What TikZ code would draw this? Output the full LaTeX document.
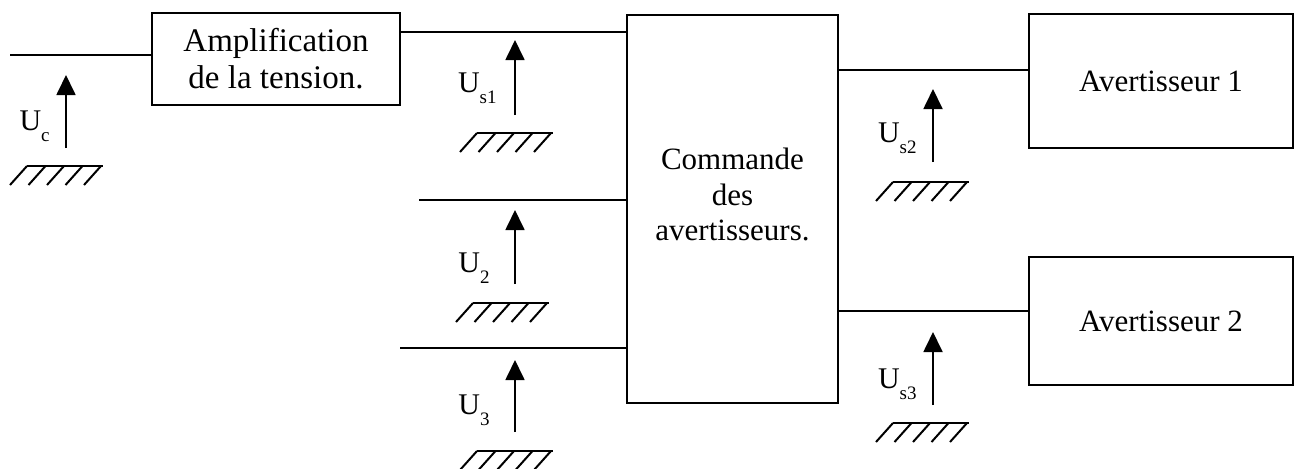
\documentclass[tikz,border=0pt]{standalone}
\usepackage{fontspec}
\setmainfont{Liberation Serif}
\usetikzlibrary{arrows.meta}
\newcommand\Ulab[1]{U\raisebox{-5.5pt}{\fontsize{9.5}{10}\selectfont #1}}
\tikzset{
  box/.style={draw, line width=0.9pt, rectangle, align=center, inner sep=0pt, font=\fontsize{15.5}{16.5}\selectfont},
  wire/.style={line width=0.9pt},
  volt/.style={line width=0.9pt, -{Triangle[length=10pt,width=9.5pt]}},
  vlab/.style={anchor=base east, inner sep=0pt, font=\fontsize{15}{16}\selectfont},
  ground/.pic={
    \draw[line width=1pt] (0,0) -- (76,0);
    \foreach \i in {0,...,4} \draw[line width=1pt] (\i*18.5,0) -- ++(-17,19);
  }
}
\begin{document}
\begin{tikzpicture}[x={(0.5pt,0)}, y={(0,-0.5pt)}]
\useasboundingbox (0,0) rectangle (1295,468);
% boxes
\node[box, minimum width=124pt, minimum height=46pt, font=\fontsize{16.5}{18.5}\selectfont] (amp) at (276,59)
  {Amplification\\de la tension.};
\node[box, minimum width=105.5pt, minimum height=194pt] (cmd) at (732.5,209)
  {Commande\\[1.5pt]des\\[1pt]avertisseurs.\\[-1.5pt]};
\node[box, minimum width=132pt, minimum height=67pt] (av1) at (1161,81) {Avertisseur 1};
\node[box, minimum width=132pt, minimum height=64pt] (av2) at (1161,321) {Avertisseur 2};
% wires
\coordinate (cin) at (10,55);
\coordinate (y32) at (0,32);
\coordinate (in2) at (419,200);
\coordinate (in3) at (400,348);
\coordinate (y70) at (0,70);
\coordinate (y311) at (0,311);
\draw[wire] (cin) -- (cin -| amp.west);
\draw[wire] (amp.east |- y32) -- (cmd.west |- y32);
\draw[wire] (in2) -- (in2 -| cmd.west);
\draw[wire] (in3) -- (in3 -| cmd.west);
\draw[wire] (cmd.east |- y70) -- (av1.west |- y70);
\draw[wire] (cmd.east |- y311) -- (av2.west |- y311);
% voltage arrows
\draw[volt] (66,148) -- (66,75);
\draw[volt] (515,115) -- (515,40);
\draw[volt] (515,284) -- (515,210);
\draw[volt] (515,432) -- (515,360);
\draw[volt] (933,162) -- (933,89);
\draw[volt] (933,405) -- (933,332);
% labels
\node[vlab] (lc) at (50,130) {\Ulab{c}};
\node[vlab] (ls1) at (497,92) {\Ulab{s1}};
\node[vlab] (l2) at (490,272) {\Ulab{2}};
\node[vlab] (l3) at (490,414) {\Ulab{3}};
\node[vlab] (ls2) at (917,142) {\Ulab{s2}};
\node[vlab] (ls3) at (917,388) {\Ulab{s3}};
% grounds
\pic at (27,166) {ground};
\pic at (477,133) {ground};
\pic at (473,303) {ground};
\pic at (477,451) {ground};
\pic at (893,182) {ground};
\pic at (893,423) {ground};
\end{tikzpicture}
\end{document}
